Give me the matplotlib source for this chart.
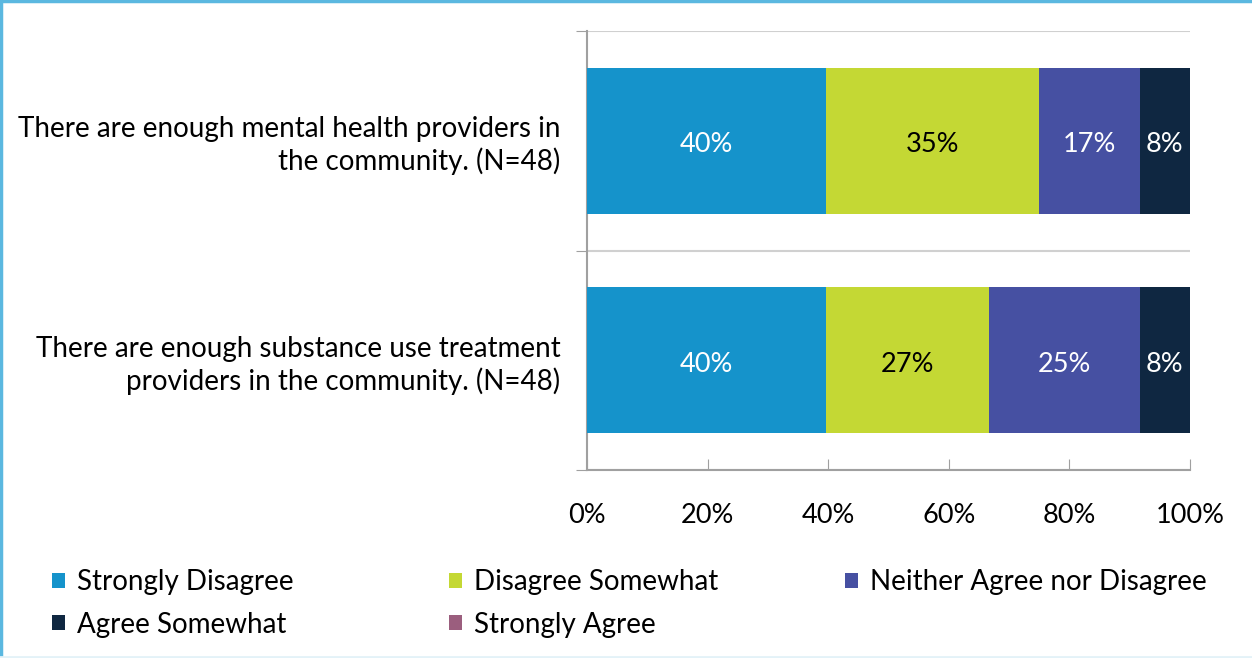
import matplotlib
matplotlib.use("Agg")
import matplotlib.pyplot as plt
from matplotlib.patches import Patch
from matplotlib.lines import Line2D
import numpy as np

plt.rcParams['font.family'] = ['Lato', 'DejaVu Sans']

categories = [
    "There are enough mental health providers in\nthe community. (N=48)",
    "There are enough substance use treatment\nproviders in the community. (N=48)",
]
series_names = ["Strongly Disagree", "Disagree Somewhat", "Neither Agree nor Disagree",
                "Agree Somewhat", "Strongly Agree"]
# percentages (counts out of 48)
values = {
    "Strongly Disagree": [39.58, 39.58],
    "Disagree Somewhat": [35.42, 27.08],
    "Neither Agree nor Disagree": [16.67, 25.00],
    "Agree Somewhat": [8.33, 8.33],
    "Strongly Agree": [0.0, 0.0],
}
colors = ["#1593CB", "#C4D834", "#4650A2", "#0F2741", "#9B5E7E"]
label_colors = ["white", "black", "white", "white", "white"]
xticks = [0, 20, 40, 60, 80, 100]
xtick_labels = ["0%", "20%", "40%", "60%", "80%", "100%"]

FS = 20
FS_T = 19.5
W, H = 1252, 658
fig = plt.figure(figsize=(W / 100, H / 100), dpi=100)
ax = fig.add_axes([587 / W, 1 - 470 / H, (1190 - 587) / W, (470 - 31) / H])

y = np.arange(len(categories))
left = np.zeros(len(categories))
for name, c, lc in zip(series_names, colors, label_colors):
    v = np.array(values[name])
    bars = ax.barh(y, v, left=left, height=0.665, color=c, edgecolor='none', zorder=3)
    for rect, val in zip(bars, v):
        if val > 0:
            ax.annotate(f"{val:.0f}%",
                        (rect.get_x() + rect.get_width() / 2, rect.get_y() + rect.get_height() / 2),
                        xytext=(0, -3), textcoords='offset points',
                        ha='center', va='center', color=lc, fontsize=FS_T, zorder=4)
    left += v

ax.set_xlim(0, 100)
ax.set_ylim(1.5, -0.5)
ax.set_xticks(xticks)
ax.set_xticklabels(xtick_labels, fontsize=FS_T)
ax.tick_params(axis='x', direction='in', length=8, color='#A0A0A0', pad=24)

ax.set_yticks([-0.5, 0.5, 1.5])
ax.set_yticklabels([])
ax.tick_params(axis='y', which='major', direction='out', length=8, color='#A0A0A0')
ax.set_yticks(y, minor=True)
ax.set_yticklabels(categories, minor=True, fontsize=FS, ha='right', linespacing=1.22)
ax.tick_params(axis='y', which='minor', length=0, pad=19)

ax.grid(axis='y', which='major', color='#D0D0D0', linewidth=1.5, zorder=0)
for s in ['top', 'right']:
    ax.spines[s].set_visible(False)
for s in ['left', 'bottom']:
    ax.spines[s].set_color('#A0A0A0')
    ax.spines[s].set_linewidth(1.5)

# legend in three columns (Excel-style equal column widths)
handles = [Patch(facecolor=c, edgecolor='none') for c in colors]
col_x = [52, 449, 845]
cols = [[0, 3], [1, 4], [2]]
for cx, idx in zip(col_x, cols):
    fig.legend([handles[i] for i in idx], [series_names[i] for i in idx],
               loc='upper left', bbox_to_anchor=(cx / W, 1 - 569 / H),
               frameon=False, fontsize=FS, borderpad=0, borderaxespad=0,
               handlelength=0.45, handleheight=0.45, handletextpad=0.45,
               labelspacing=0.6)

# frame
fc = '#5BB8E0'
fig.add_artist(Line2D([0.0008, 0.0008], [0, 1], transform=fig.transFigure, color=fc, lw=2.5))
fig.add_artist(Line2D([0, 1], [0.998, 0.998], transform=fig.transFigure, color=fc, lw=2.5))
fig.add_artist(Line2D([0, 1], [0.002, 0.002], transform=fig.transFigure, color='#E3F2F8', lw=2))

fig.savefig("out.png", dpi=100)
